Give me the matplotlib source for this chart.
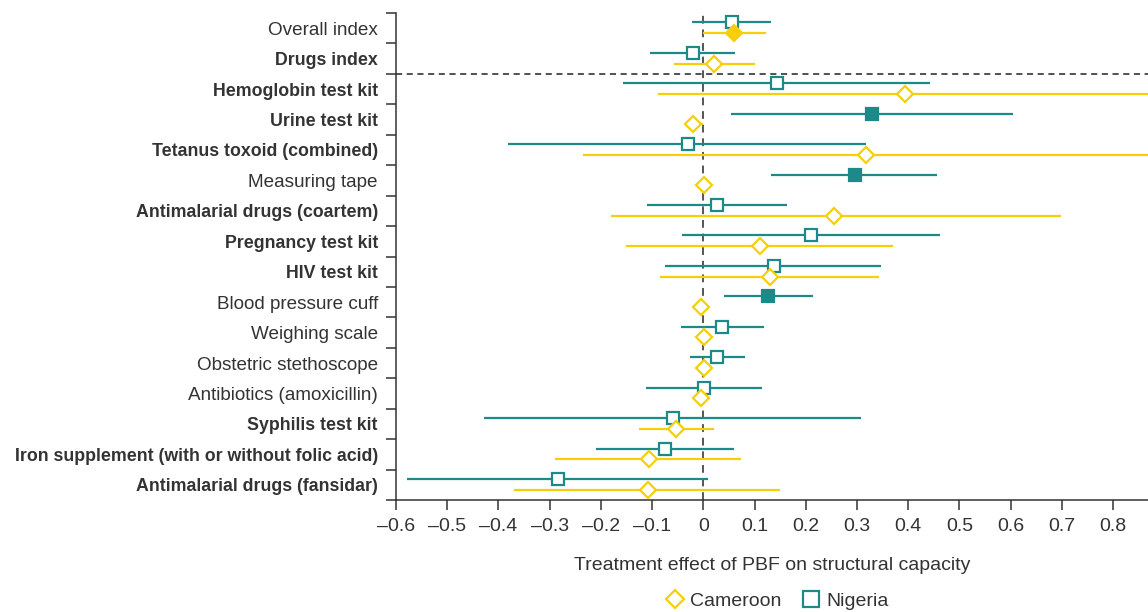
import matplotlib
matplotlib.use("Agg")
import matplotlib.pyplot as plt
from matplotlib.lines import Line2D

plt.rcParams["font.family"] = ["Liberation Sans", "DejaVu Sans"]

categories = [
    "Overall index",
    "Drugs index",
    "Hemoglobin test kit",
    "Urine test kit",
    "Tetanus toxoid (combined)",
    "Measuring tape",
    "Antimalarial drugs (coartem)",
    "Pregnancy test kit",
    "HIV test kit",
    "Blood pressure cuff",
    "Weighing scale",
    "Obstetric stethoscope",
    "Antibiotics (amoxicillin)",
    "Syphilis test kit",
    "Iron supplement (with or without folic acid)",
    "Antimalarial drugs (fansidar)",
]
bold_labels = [False, True, True, True, True, False, True, True, True,
               False, False, False, False, True, True, True]

# Nigeria (teal squares)
nigeria_est = [0.055, -0.021, 0.143, 0.329, -0.030, 0.296, 0.026, 0.211,
               0.137, 0.126, 0.037, 0.027, 0.001, -0.060, -0.074, -0.284]
nigeria_lo = [-0.023, -0.105, -0.157, 0.054, -0.381, 0.132, -0.110, -0.042,
              -0.075, 0.040, -0.044, -0.026, -0.112, -0.428, -0.209, -0.579]
nigeria_hi = [0.132, 0.062, 0.443, 0.604, 0.318, 0.457, 0.163, 0.462,
              0.347, 0.215, 0.119, 0.081, 0.114, 0.308, 0.059, 0.009]
nigeria_sig = [False, False, False, True, False, True, False, False,
               False, True, False, False, False, False, False, False]

# Cameroon (yellow diamonds)
cameroon_est = [0.059, 0.021, 0.393, -0.020, 0.318, 0.002, 0.255, 0.111,
                0.130, -0.004, 0.001, 0.002, -0.005, -0.053, -0.107, -0.109]
cameroon_lo = [0.000, -0.057, -0.088, -0.036, -0.234, -0.010, -0.181, -0.151,
               -0.085, -0.015, -0.013, -0.010, -0.018, -0.126, -0.290, -0.370]
cameroon_hi = [0.122, 0.100, 0.874, 0.000, 0.870, 0.017, 0.698, 0.371,
               0.343, 0.006, 0.018, 0.017, 0.013, 0.020, 0.073, 0.150]
cameroon_sig = [True, False, False, False, False, False, False, False,
                False, False, False, False, False, False, False, False]

teal = "#1b8a88"
yellow = "#f6cf0a"
text_col = "#333333"

fig = plt.figure(figsize=(11.48, 6.12), dpi=100)
ax = fig.add_axes([396 / 1148, 1 - 500 / 612, 1 - 396 / 1148, (500 - 13) / 612])

n = len(categories)
ax.set_xlim(-0.6, 0.868)
ax.set_ylim(n, 0)

ax.axvline(0, color="#555555", lw=1.4, ls=(0, (4, 3)), zorder=1)
ax.axhline(2, color="#222222", lw=1.1, ls=(0, (4, 3)), zorder=1, clip_on=False)

for i in range(n):
    yn = i + 0.5 - 0.19
    yc = i + 0.5 + 0.16
    ax.plot([nigeria_lo[i], nigeria_hi[i]], [yn, yn], color=teal, lw=1.6,
            solid_capstyle="butt", zorder=2)
    ax.plot([nigeria_est[i]], [yn], marker="s", ms=8,
            mfc=teal if nigeria_sig[i] else "white", mec=teal, mew=1.6,
            ls="none", zorder=3)
    ax.plot([cameroon_lo[i], cameroon_hi[i]], [yc, yc], color=yellow, lw=1.6,
            solid_capstyle="butt", zorder=2)
    ax.plot([cameroon_est[i]], [yc], marker="D", ms=8,
            mfc=yellow if cameroon_sig[i] else "white", mec=yellow, mew=1.6,
            ls="none", zorder=3)

for s in ["top", "right"]:
    ax.spines[s].set_visible(False)
for s in ["left", "bottom"]:
    ax.spines[s].set_color("#333333")
    ax.spines[s].set_linewidth(1.1)

ax.set_yticks(range(n + 1))
ax.set_yticklabels([])
ax.set_yticks([i + 0.5 for i in range(n)], minor=True)
ax.set_yticklabels(categories, minor=True)
ax.tick_params(axis="y", which="major", length=7, width=1.1, color="#333333")
ax.tick_params(axis="y", which="minor", length=0, pad=13, labelsize=13,
               labelcolor=text_col)
for lab, b in zip(ax.get_yticklabels(minor=True), bold_labels):
    lab.set_fontweight("bold" if b else "normal")
    if b:
        lab.set_fontsize(12.8)
    else:
        lab.set_fontsize(13.6)

xt = [round(-0.6 + 0.1 * k, 1) for k in range(15)]
ax.set_xticks(xt)
ax.set_xticklabels(["0" if v == 0 else f"{v:.1f}".replace("-", "\u2013") for v in xt])
ax.tick_params(axis="x", length=7, width=1.1, color="#333333", labelsize=14,
               labelcolor=text_col, pad=6)

ax.set_xlabel("Treatment effect of PBF on structural capacity", fontsize=14,
              color=text_col, labelpad=16)

handles = [
    Line2D([], [], marker="D", ms=9, mfc="white", mec=yellow, mew=1.6, ls="none"),
    Line2D([], [], marker="s", ms=11, mfc="white", mec=teal, mew=1.6, ls="none"),
]
fig.legend(handles, ["Cameroon", "Nigeria"], loc="center",
           bbox_to_anchor=(776 / 1148, 1 - 601 / 612), ncol=2, frameon=False,
           fontsize=14, handletextpad=0.2, columnspacing=0.9, handlelength=1.2,
           labelcolor=text_col)

fig.savefig("out.png", dpi=100)
